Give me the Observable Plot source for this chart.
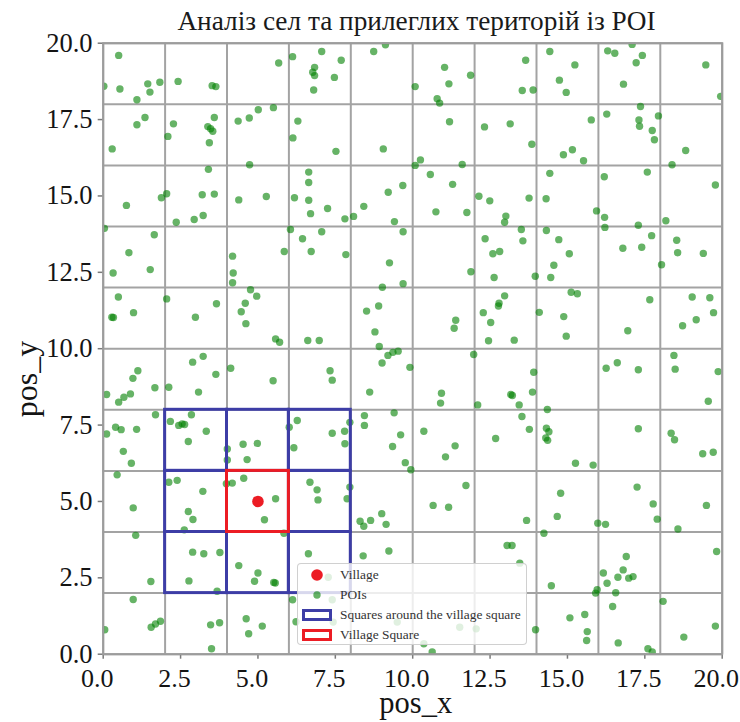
<!DOCTYPE html>
<html>
<head>
<meta charset="utf-8">
<script src="https://cdn.jsdelivr.net/npm/d3@7"></script>
<script src="https://cdn.jsdelivr.net/npm/@observablehq/plot@0.6"></script>
<style>
  body { margin: 0; background: #fff; }
  #wrap { position: relative; width: 740px; height: 722px; font-family: "Liberation Serif", "DejaVu Serif", serif; }
  #title { height: 36px; line-height: 42px; padding-left: 93px; text-align: center; font-size: 27.3px; color: #1a1a1a; white-space: nowrap; overflow: visible; }
  #ylabel { position: absolute; left: 26px; top: 379px; font-size: 32px; line-height: 32px; color: #141414; white-space: nowrap;
            transform: translate(-50%, -50%) rotate(-90deg); }
  #legend { position: absolute; left: 297px; top: 563px; width: 230px; height: 82px; box-sizing: border-box;
            background: rgba(255,255,255,0.8); border: 1px solid rgba(200,200,200,0.85); border-radius: 4px;
            font-size: 13.4px; color: #333; }
  #legend .row { position: absolute; left: 0; height: 20px; width: 100%; }
  #legend .row span { position: absolute; left: 42px; top: 0; line-height: 20px; white-space: nowrap; }
  #legend .row svg { position: absolute; left: 0; top: 0; }
</style>
</head>
<body>
<div id="wrap">
  <div id="title">Аналіз сел та прилеглих територій із POI</div>
  <div id="chart"></div>
  <div id="ylabel">pos_y</div>
  <div id="legend"></div>
</div>
<script>
// Points of interest scattered over the 20 × 20 area: [pos_x, pos_y]
const poiPositions = [
  [0.50,19.60],[0.02,18.59],[0.54,18.50],[1.44,18.67],[1.51,18.40],[1.83,18.72],[1.09,18.15],[2.42,18.75],
  [3.52,18.61],[3.64,18.58],[5.67,19.35],[6.12,19.56],[7.06,19.73],[7.69,19.44],[6.83,19.21],[6.77,19.05],
  [6.83,18.94],[7.47,18.88],[6.80,18.47],[8.74,19.73],[9.12,19.95],[11.03,19.21],[11.17,18.67],[10.08,18.58],
  [11.87,18.95],[10.79,18.18],[10.87,18.04],[13.65,19.44],[13.54,18.45],[13.89,18.47],[14.43,19.73],[15.24,19.29],
  [14.74,18.79],[14.96,18.39],[16.30,19.75],[16.53,19.67],[17.09,19.96],[17.42,19.60],[17.22,19.36],[16.81,18.66],
  [19.47,19.29],[19.95,18.26],
  [0.29,16.54],[1.09,17.33],[1.35,17.57],[2.27,17.36],[2.09,16.95],[3.59,17.57],[3.38,17.27],[3.47,17.20],
  [3.54,17.12],[3.43,16.74],[4.36,17.45],[4.72,17.55],[5.01,17.82],[5.50,17.89],[4.73,16.02],[6.29,17.45],
  [6.13,16.90],[7.52,16.46],[9.05,16.54],[11.19,17.43],[12.32,17.26],[13.15,17.36],[13.85,16.69],[15.77,17.49],
  [16.27,17.68],[14.87,16.35],[15.16,16.51],[15.52,16.15],[17.36,17.93],[17.31,17.49],[17.33,17.28],[17.94,17.62],
  [17.74,17.14],[17.81,16.84],[18.82,16.49],[10.25,16.18],[10.08,16.00],[11.60,16.03],
  [3.40,15.87],[0.75,14.69],[1.88,14.94],[2.05,15.07],[3.20,15.04],[3.59,15.06],[2.36,14.14],[2.94,14.23],
  [3.23,14.36],[4.38,14.87],[5.27,14.98],[6.18,14.94],[6.64,15.78],[6.64,15.44],[6.64,14.86],[6.70,14.42],
  [7.25,14.59],[7.81,14.25],[8.09,14.33],[8.42,14.66],[9.21,15.12],[10.57,15.70],[11.29,15.38],[9.68,15.34],
  [10.75,14.48],[11.75,14.46],[12.14,14.99],[12.49,14.84],[13.76,14.93],[14.31,14.91],[13.01,14.34],[12.97,14.14],
  [14.43,15.74],[16.19,15.63],[17.58,15.78],[18.38,16.02],[19.78,15.36],[15.94,14.51],[16.20,14.30],[16.21,13.97],
  [18.18,14.19],[9.41,14.16],[9.69,13.83],
  [0.04,13.94],[1.65,13.73],[0.83,13.14],[0.32,12.48],[1.52,12.59],[4.18,13.03],[4.20,12.48],[4.18,12.16],
  [5.85,13.18],[6.05,13.90],[6.44,13.60],[7.06,13.83],[6.72,13.18],[7.84,13.08],[9.25,12.81],[11.88,12.52],
  [12.34,13.60],[12.59,13.11],[12.81,13.18],[12.63,12.33],[13.51,13.90],[13.56,13.53],[13.96,12.37],[14.32,13.87],
  [14.72,13.57],[15.06,13.11],[14.56,12.73],[14.46,12.33],[17.29,14.04],[17.72,13.70],[16.79,13.29],[17.40,13.32],
  [18.53,13.55],[18.56,13.14],[19.39,13.12],[18.04,12.75],[9.02,12.01],[9.69,12.13],
  [0.49,11.69],[0.28,11.03],[0.33,11.02],[0.98,11.18],[2.05,11.63],[2.98,11.03],[3.66,11.47],[4.76,11.93],
  [4.96,11.72],[4.59,11.49],[4.46,11.21],[4.61,10.82],[5.57,10.32],[5.70,10.21],[6.61,10.27],[6.98,10.27],
  [8.90,11.40],[8.51,11.23],[8.78,10.55],[8.92,10.07],[11.39,10.93],[11.34,10.67],[12.28,11.18],[12.52,10.86],
  [12.79,11.49],[12.97,11.73],[12.77,11.40],[12.45,10.26],[13.28,10.28],[14.09,11.19],[14.88,11.05],[14.96,10.41],
  [15.12,11.85],[15.32,11.80],[17.66,11.60],[16.95,10.59],[19.03,11.69],[19.60,11.67],[19.72,11.18],[18.72,10.75],
  [19.16,10.95],
  [9.01,9.53],[9.20,9.78],[9.36,9.88],[9.53,9.92],[2.89,9.56],[3.23,9.75],[3.64,9.16],[4.12,9.36],
  [1.12,9.28],[0.96,9.03],[7.33,9.28],[7.40,8.97],[5.49,8.95],[0.11,8.50],[0.50,8.25],[0.67,8.41],
  [0.88,8.52],[1.67,8.72],[2.12,8.74],[3.08,8.58],[8.61,8.58],[9.91,9.39],[11.97,9.81],[10.93,8.54],
  [10.90,8.22],[12.10,8.16],[13.17,8.50],[13.22,8.47],[13.44,8.16],[13.87,8.58],[13.91,9.23],[16.25,9.36],
  [16.61,9.54],[17.29,9.31],[18.44,9.78],[18.48,9.33],[19.87,9.25],[19.55,8.28],
  [0.11,7.21],[0.40,7.43],[0.58,7.35],[1.08,7.36],[0.65,6.64],[0.91,6.25],[1.69,7.84],[2.17,7.62],
  [2.85,7.84],[2.44,7.49],[2.55,7.54],[2.63,7.52],[3.33,7.30],[2.75,6.96],[4.01,6.72],[4.01,6.36],
  [4.52,6.87],[4.98,6.90],[4.65,6.37],[6.01,7.43],[6.16,6.76],[6.27,7.65],[7.40,7.23],[7.80,7.30],
  [7.97,7.59],[7.81,6.89],[8.44,7.81],[8.44,7.49],[9.40,7.90],[9.61,7.18],[9.35,6.80],[9.76,6.27],
  [9.94,6.04],[10.36,7.30],[11.37,6.82],[11.06,6.46],[12.68,7.06],[13.53,7.78],[13.77,7.36],[14.35,8.01],
  [14.32,7.40],[14.40,7.28],[14.30,7.08],[14.36,7.00],[17.29,7.38],[18.35,7.23],[18.46,7.02],[19.37,6.56],
  [19.71,6.61],[15.26,6.25],[15.83,6.19],
  [0.45,5.87],[0.97,4.79],[2.12,5.63],[2.39,5.69],[3.22,5.33],[2.75,4.67],[2.90,4.41],[2.62,4.07],
  [3.98,5.58],[4.17,5.60],[4.54,5.76],[5.57,5.09],[5.21,4.40],[5.84,3.96],[6.68,5.63],[6.91,5.38],
  [6.94,5.05],[7.97,5.47],[7.88,5.09],[8.30,4.35],[8.42,4.19],[8.64,4.38],[9.00,4.60],[9.14,4.25],
  [11.72,5.52],[10.66,4.87],[11.16,4.81],[13.68,4.38],[14.24,3.96],[14.78,5.27],[14.67,4.51],[15.98,4.29],
  [16.23,4.25],[17.25,5.47],[17.77,4.92],[17.90,4.42],[18.57,4.10],[19.49,4.87],
  [1.05,3.89],[2.89,3.34],[3.25,3.29],[3.77,3.33],[2.77,2.40],[1.54,2.38],[3.68,2.06],[4.38,2.90],
  [5.00,2.66],[4.89,2.39],[5.51,2.35],[5.56,2.33],[6.63,3.29],[8.40,3.22],[9.23,3.38],[13.05,3.56],
  [13.21,3.56],[13.46,2.98],[14.48,2.24],[19.82,3.36],[16.90,3.20],[16.16,2.66],[16.80,2.76],[16.63,2.52],
  [16.98,2.49],[17.12,2.54],[16.28,2.32],[15.96,2.11],[15.91,2.00],[16.56,2.01],[7.27,2.52],
  [0.97,1.79],[0.05,0.80],[1.55,0.88],[1.69,0.99],[1.85,1.08],[3.47,0.96],[3.76,1.03],[3.50,0.18],
  [4.62,1.16],[5.14,0.92],[4.70,0.67],[6.12,1.78],[7.40,1.78],[6.23,1.06],[7.43,1.05],[9.50,1.05],
  [11.52,0.88],[12.05,0.83],[10.36,0.34],[10.63,0.07],[13.97,0.80],[16.46,1.56],[18.09,1.73],[15.08,1.19],
  [15.56,1.30],[15.64,0.74],[15.62,0.45],[16.64,0.37],[17.60,0.18],[17.74,0.07],[18.76,0.56],[19.78,0.92]
];

// The village
const villageX = [5.0];
const villageY = [5.0];

// Square that contains the village, and the eight squares around it (lower-left corners, side 2)
const villageSquareX1 = [4];
const villageSquareY1 = [4];
const aroundSquareX1 = [2, 4, 6, 2, 6, 2, 4, 6];
const aroundSquareY1 = [6, 6, 6, 4, 4, 2, 2, 2];
const squareSide = 2;

// Axis ticks and grid lines
const axisTicks = [0, 2.5, 5, 7.5, 10, 12.5, 15, 17.5, 20];
const gridLines = [0, 2, 4, 6, 8, 10, 12, 14, 16, 18, 20];

const COLORS = { poi: "green", village: "#ec1c24", around: "#3d3da6", grid: "#a3a3a3", tick: "#7a7a7a", text: "#141414" };

const villages = villageX.map((x, i) => ({ x, y: villageY[i] }));
const villageSquares = villageSquareX1.map((x, i) => ({ x1: x, x2: x + squareSide, y1: villageSquareY1[i], y2: villageSquareY1[i] + squareSide }));
const aroundSquares = aroundSquareX1.map((x, i) => ({ x1: x, x2: x + squareSide, y1: aroundSquareY1[i], y2: aroundSquareY1[i] + squareSide }));
const fmt = d => d.toFixed(1);

const chart = Plot.plot({
  width: 740,
  height: 686,
  marginLeft: 102.7,
  marginRight: 18.3,
  marginTop: 6.7,
  marginBottom: 68.3,
  x: { domain: [0, 20], label: null },
  y: { domain: [0, 20], label: null },
  style: { fontFamily: "'Liberation Serif', 'DejaVu Serif', serif", background: "white", overflow: "visible" },
  marks: [
    Plot.gridX({ ticks: gridLines, stroke: COLORS.grid, strokeOpacity: 1, strokeWidth: 2 }),
    Plot.gridY({ ticks: gridLines, stroke: COLORS.grid, strokeOpacity: 1, strokeWidth: 2 }),
    Plot.axisX({ ticks: axisTicks, tickSize: 5, tickFormat: () => "", stroke: COLORS.tick, strokeWidth: 1.5, label: null }),
    Plot.axisY({ ticks: axisTicks, tickSize: 5, tickFormat: () => "", stroke: COLORS.tick, strokeWidth: 1.5, label: null }),
    Plot.text(axisTicks, { x: d => d, text: fmt, frameAnchor: "bottom", lineAnchor: "top", dy: 14, dx: -6, fontSize: 26, fill: COLORS.text }),
    Plot.text(axisTicks, { y: d => d, text: fmt, frameAnchor: "left", textAnchor: "end", dx: -10.7, dy: 0, fontSize: 26.5, fill: COLORS.text }),
    Plot.dot(poiPositions, { x: d => d[0], y: d => d[1], r: 3.7, fill: COLORS.poi, fillOpacity: 0.6, stroke: "none", clip: true }),
    Plot.rect(aroundSquares, { x1: "x1", x2: "x2", y1: "y1", y2: "y2", fill: "none", stroke: COLORS.around, strokeWidth: 3 }),
    Plot.rect(villageSquares, { x1: "x1", x2: "x2", y1: "y1", y2: "y2", fill: "none", stroke: COLORS.village, strokeWidth: 3 }),
    Plot.dot(villages, { x: "x", y: "y", r: 5.8, fill: COLORS.village, stroke: "none" }),
    Plot.frame({ stroke: "#9c9c9c", strokeWidth: 2 }),
    Plot.text(["pos_x"], { text: d => d, frameAnchor: "bottom", lineAnchor: "middle", dx: 3, dy: 49, fontSize: 30.5, fill: COLORS.text })
  ]
});
document.getElementById("chart").appendChild(chart);

// Legend: marker kinds with their labels
const legendLabels = ["Village", "POIs", "Squares around the village square", "Village Square"];
const legendKinds = ["village", "poi", "around", "square"];
const legend = document.getElementById("legend");
legendKinds.forEach((kind, i) => {
  const row = document.createElement("div");
  row.className = "row";
  row.style.top = (1 + i * 20) + "px";
  let swatch;
  if (kind === "village") swatch = `<circle cx="19" cy="10" r="5.8" fill="${COLORS.village}"/>`;
  else if (kind === "poi") swatch = `<circle cx="19" cy="10" r="3.7" fill="${COLORS.poi}" fill-opacity="0.6"/>`;
  else swatch = `<rect x="5.5" y="5.5" width="27" height="9" fill="none" stroke-width="3" stroke="${kind === "around" ? COLORS.around : COLORS.village}"/>`;
  row.innerHTML = `<svg width="40" height="20">${swatch}</svg><span>${legendLabels[i]}</span>`;
  legend.appendChild(row);
});
</script>
</body>
</html>
